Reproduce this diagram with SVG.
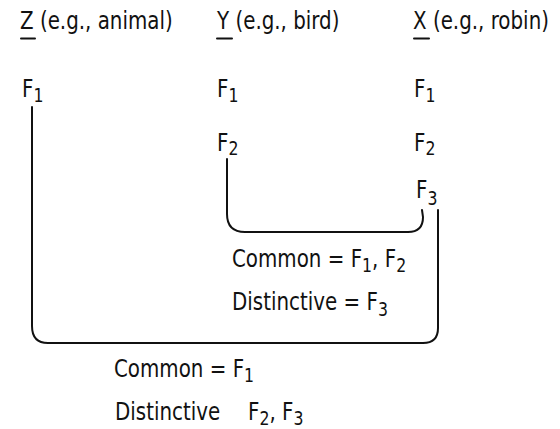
<svg xmlns="http://www.w3.org/2000/svg" width="560" height="429" viewBox="0 0 560 429">
<style>
text{font-family:"DejaVu Sans Condensed","Liberation Sans",sans-serif;font-size:24px;fill:#111}
.sub{font-size:19px}
.c{fill:none;stroke:#111;stroke-width:2;stroke-linecap:round}
</style>
<rect width="560" height="429" fill="#fff"/>
<g id="header-z"><text transform="translate(20 29) scale(0.92 1)">Z (e.g., animal)</text><line class="c" x1="21" y1="38.5" x2="35" y2="38.5"/></g>
<g id="header-y"><text transform="translate(217 29) scale(0.92 1)">Y (e.g., bird)</text><line class="c" x1="217" y1="38.5" x2="232" y2="38.5"/></g>
<g id="header-x"><text transform="translate(413 29) scale(0.92 1)">X (e.g., robin)</text><line class="c" x1="414" y1="38.5" x2="429" y2="38.5"/></g>
<g id="z-f1"><text transform="translate(22 97) scale(0.92 1)">F<tspan class="sub" dy="5">1</tspan></text></g>
<g id="y-f1"><text transform="translate(217 97) scale(0.92 1)">F<tspan class="sub" dy="5">1</tspan></text></g>
<g id="x-f1"><text transform="translate(414 97) scale(0.92 1)">F<tspan class="sub" dy="5">1</tspan></text></g>
<g id="y-f2"><text transform="translate(217 151) scale(0.92 1)">F<tspan class="sub" dy="4">2</tspan></text></g>
<g id="x-f2"><text transform="translate(414 151) scale(0.92 1)">F<tspan class="sub" dy="4">2</tspan></text></g>
<g id="x-f3"><text transform="translate(416 198) scale(0.92 1)">F<tspan class="sub" dy="7">3</tspan></text></g>
<g id="connectors">
<path class="c" d="M227 159 V214 Q227 232 245 232 H408 Q423 232 423 217 L422 210"/>
<path class="c" d="M32 107 V326 Q32 343 48 343 H423 Q438 343 438 328 V210"/>
</g>
<g id="inner-label">
<text transform="translate(232 267) scale(0.92 1)">Common = F<tspan class="sub" dy="5">1</tspan><tspan dy="-5">, F</tspan><tspan class="sub" dy="5">2</tspan></text>
<text transform="translate(232 310) scale(0.92 1)">Distinctive = F<tspan class="sub" dy="6">3</tspan></text>
</g>
<g id="outer-label">
<text transform="translate(114 377) scale(0.92 1)">Common = F<tspan class="sub" dy="5">1</tspan></text>
<text transform="translate(115 420) scale(0.92 1)">Distinctive</text>
<text transform="translate(248 420) scale(0.92 1)">F<tspan class="sub" dy="5">2</tspan><tspan dy="-5">, F</tspan><tspan class="sub" dy="5">3</tspan></text>
</g>
</svg>
